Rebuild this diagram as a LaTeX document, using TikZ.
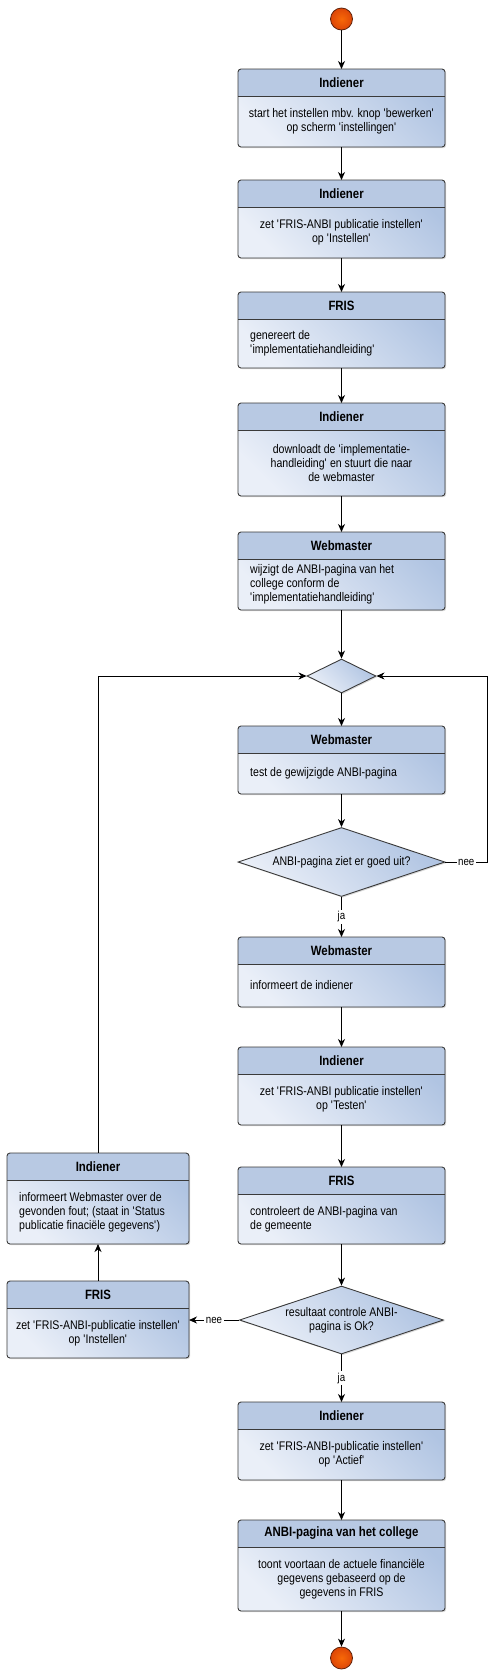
\documentclass[tikz,border=0pt]{standalone}
\usepackage{fontspec}
\setmainfont{Liberation Sans}[FakeStretch=0.845]
\usetikzlibrary{arrows.meta,shapes.geometric,shadows}
\definecolor{titleblue}{RGB}{184,201,227}
\definecolor{bodylight}{RGB}{234,239,248}
\definecolor{bodydark}{RGB}{176,196,226}
\definecolor{boxline}{RGB}{58,58,58}
\definecolor{ballred}{RGB}{246,78,8}
\definecolor{ballline}{RGB}{95,35,12}
\newcommand{\sq}{\textquotesingle}
\tikzset{
	actbox/.style={rectangle, rounded corners=3pt, outer sep=0pt, inner sep=0pt,
		top color=bodydark, bottom color=bodylight, shading angle=-45,
		drop shadow={shadow xshift=1.2pt, shadow yshift=-1.2pt, opacity=0.3}},
	boxtitle/.style={font=\fontsize{13.5}{15}\selectfont\bfseries, inner sep=0pt},
	boxtext/.style={font=\fontsize{12.5}{14}\selectfont, inner sep=0pt},
	txt west/.style={anchor=west, align=left, xshift=12pt},
	txt center/.style={anchor=center, align=center},
	decision/.style={diamond, draw=boxline, line width=0.9pt, inner sep=0pt, aspect=3,
		top color=bodydark, bottom color=bodylight, shading angle=-45,
		font=\fontsize{12.5}{14}\selectfont, align=center,
		drop shadow={shadow xshift=1.2pt, shadow yshift=-1.2pt, opacity=0.3}},
	startstop/.style={circle, draw=ballline, line width=0.8pt, inner sep=0pt,
		minimum size=22pt, inner color=ballred!85!yellow, outer color=ballred!90!black},
	flow/.style={draw=black, line width=0.8pt, -{Stealth[length=8pt, width=7pt, inset=2.5pt]}},
	flowlabel/.style={fill=white, inner sep=1.5pt, font=\fontsize{11.5}{13}\selectfont}
}
% #1 name, #2 centre x, #3 top, #4 bottom, #5 width, #6 west/center, #7 title, #8 text
\newcommand{\actbox}[8]{%
	\node[actbox, minimum width=#5, minimum height=#4-#3] (#1) at (#2,{(#3+#4)/2}) {};
	\begin{scope}
		\clip[rounded corners=3pt] (#1.south west) rectangle (#1.north east);
		\fill[titleblue] (#1.north west) rectangle ({#2+#5/2},{#3+27});
	\end{scope}
	\draw[boxline, line width=0.9pt] ({#2-#5/2},{#3+27}) -- ({#2+#5/2},{#3+27});
	\draw[boxline, line width=0.9pt, rounded corners=3pt] (#1.south west) rectangle (#1.north east);
	\node[boxtitle] (#1-t) at (#2,{#3+13.5}) {#7};
	\pgfmathsetmacro\ybody{(#3+27+#4)/2}
	\node[boxtext, txt #6] (#1-b) at (#1.#6 |- 0,\ybody) {#8};
}

\begin{document}
\begin{tikzpicture}[x=1pt, y=-1pt]
	%%%%% START %%%%%
	\useasboundingbox (0,0) rectangle (500,1679);

	\node[startstop] (start) at (341.5,19) {};

	\actbox{b1}{341.5}{69}{147}{207}{center}{Indiener}{start het instellen mbv. knop \sq{}bewerken\sq{}\\op scherm \sq{}instellingen\sq{}}
	\actbox{b2}{341.5}{180}{258}{207}{center}{Indiener}{zet \sq{}FRIS-ANBI publicatie instellen\sq{}\\op \sq{}Instellen\sq{}}
	\actbox{b3}{341.5}{292}{368}{207}{west}{FRIS}{genereert de\\\sq{}implementatiehandleiding\sq{}}
	\actbox{b4}{341.5}{403}{496}{207}{center}{Indiener}{downloadt de \sq{}implementatie-\\handleiding\sq{} en stuurt die naar\\de webmaster}
	\actbox{b5}{341.5}{532}{610}{207}{west}{Webmaster}{wijzigt de ANBI-pagina van het\\college conform de\\\sq{}implementatiehandleiding\sq{}}

	\node[decision, minimum width=69, minimum height=34] (m1) at (341.5,676) {};

	\actbox{b6}{341.5}{726}{794}{207}{west}{Webmaster}{test de gewijzigde ANBI-pagina}

	\node[decision, minimum width=207, minimum height=69] (d1) at (341.5,862) {ANBI-pagina ziet er goed uit?};

	\actbox{b7}{341.5}{937}{1007}{207}{west}{Webmaster}{informeert de indiener}
	\actbox{b8}{341.5}{1047}{1125}{207}{center}{Indiener}{zet \sq{}FRIS-ANBI publicatie instellen\sq{}\\op \sq{}Testen\sq{}}
	\actbox{b9}{341.5}{1167}{1244}{207}{west}{FRIS}{controleert de ANBI-pagina van\\de gemeente}

	\node[decision, minimum width=204, minimum height=68] (d2) at (341.5,1320) {resultaat controle ANBI-\\pagina is Ok?};

	\actbox{b10}{341.5}{1402}{1480}{207}{center}{Indiener}{zet \sq{}FRIS-ANBI-publicatie instellen\sq{}\\op \sq{}Actief\sq{}}
	\actbox{b11}{341.5}{1520}{1611}{207}{center}{ANBI-pagina van het college}{toont voortaan de actuele financiële\\gegevens gebaseerd op de\\gegevens in FRIS}

	\node[startstop] (stop) at (341.5,1658) {};

	% left branch
	\actbox{la1}{98}{1153}{1244}{182}{west}{Indiener}{informeert Webmaster over de\\gevonden fout; (staat in \sq{}Status\\publicatie finaciële gegevens\sq{})}
	\actbox{la2}{98}{1281}{1358}{182}{center}{FRIS}{zet \sq{}FRIS-ANBI-publicatie instellen\sq{}\\op \sq{}Instellen\sq{}}

	\coordinate (loopR) at (487,676);

	% connectors
	\draw[flow] (start) -- (b1);
	\draw[flow] (b1) -- (b2);
	\draw[flow] (b2) -- (b3);
	\draw[flow] (b3) -- (b4);
	\draw[flow] (b4) -- (b5);
	\draw[flow] (b5) -- (m1);
	\draw[flow] (m1) -- (b6);
	\draw[flow] (b6) -- (d1);
	\draw[flow] (d1) -- node[flowlabel] {ja} (b7);
	\draw[flow] (d1.east) -- node[flowlabel] {nee} (d1.east -| loopR) -- (loopR) -- (m1.east);
	\draw[flow] (b7) -- (b8);
	\draw[flow] (b8) -- (b9);
	\draw[flow] (b9) -- (d2);
	\draw[flow] (d2) -- node[flowlabel] {ja} (b10);
	\draw[flow] (d2.west) -- node[flowlabel] {nee} (d2.west -| la2.east);
	\draw[flow] (la2) -- (la1);
	\draw[flow] (la1.north) |- (m1.west);
	\draw[flow] (b10) -- (b11);
	\draw[flow] (b11) -- (stop);
	%%%%% END %%%%%
\end{tikzpicture}
\end{document}
